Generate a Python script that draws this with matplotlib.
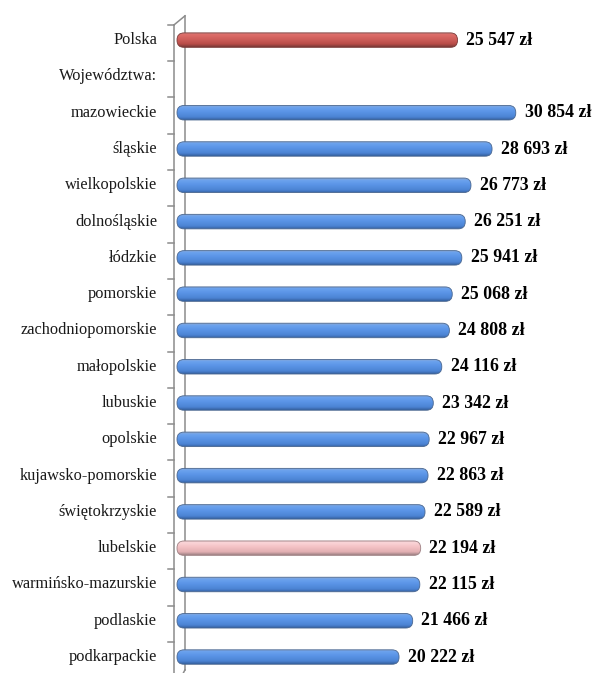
#!/usr/bin/env python3
"""Przeciętne wynagrodzenie wg województw — poziome słupki 'cylindryczne'."""

import matplotlib
matplotlib.use("Agg")
import matplotlib.pyplot as plt
import numpy as np
from matplotlib.colors import LinearSegmentedColormap
from matplotlib.patches import FancyBboxPatch

labels = ["Polska", "Województwa:", "mazowieckie", "śląskie", "wielkopolskie",
          "dolnośląskie", "łódzkie", "pomorskie", "zachodniopomorskie",
          "małopolskie", "lubuskie", "opolskie", "kujawsko-pomorskie",
          "świętokrzyskie", "lubelskie", "warmińsko-mazurskie", "podlaskie",
          "podkarpackie"]
values = [25547, None, 30854, 28693, 26773, 26251, 25941, 25068, 24808,
          24116, 23342, 22967, 22863, 22589, 22194, 22115, 21466, 20222]
kinds = ["red", None] + ["blue"] * 12 + ["pink"] + ["blue"] * 3

PALETTES = {
    "blue": ["#8FA9CF", "#6BA2EE", "#5A94E6", "#4C84D4", "#34609F"],
    "red": ["#C08A88", "#DE6E6A", "#D0605C", "#B84C48", "#7A3A38"],
    "pink": ["#D8B8BA", "#FBD6D9", "#F4C2C5", "#E2AFB2", "#9E8184"],
}
EDGES = {"blue": "#4A6790", "red": "#7A3A38", "pink": "#9E8184"}
STOPS = [0.0, 0.15, 0.45, 0.8, 1.0]

W, H = 593, 673
ZERO_PX = 177
PX_PER_UNIT = 0.01098
ROW_PX = 36.29
TOP_PX = 22

fig = plt.figure(figsize=(W / 100, H / 100), dpi=100)
ax = fig.add_axes([160 / W, 0, 1 - 160 / W, 1 - TOP_PX / H])
xmin = (160 - ZERO_PX) / PX_PER_UNIT
xmax = (W - ZERO_PX) / PX_PER_UNIT
ybot = -0.5 + (H - TOP_PX) / ROW_PX
ax.set_xlim(xmin, xmax)
ax.set_ylim(ybot, -0.5)
ax.axis("off")

font = ["Liberation Serif", "DejaVu Serif"]
bar_h = 0.4
r_px = 7.0
rx = r_px / PX_PER_UNIT
ry = r_px / ROW_PX
aspect = ry / rx

for i, (lab, val, kind) in enumerate(zip(labels, values, kinds)):
    ax.text((157 - ZERO_PX) / PX_PER_UNIT, i, lab, ha="right", va="center",
            fontsize=11.8, family=font, color="#1a1a1a", clip_on=False)
    if val is None:
        continue
    cmap = LinearSegmentedColormap.from_list(kind, list(zip(STOPS, PALETTES[kind])))
    grad = np.linspace(0, 1, 64).reshape(-1, 1)
    y0 = i - bar_h / 2
    im = ax.imshow(grad, cmap=cmap, aspect="auto", interpolation="bilinear",
                   extent=[0, val, i + bar_h / 2, y0], zorder=3)
    patch = FancyBboxPatch((0, y0), val, bar_h,
                           boxstyle=f"round,pad=0,rounding_size={rx}",
                           mutation_aspect=aspect, facecolor="none",
                           edgecolor=EDGES[kind], linewidth=0.6, zorder=4)
    ax.add_patch(patch)
    im.set_clip_path(patch)
    ax.text(val + 800, i, f"{val // 1000} {val % 1000:03d} zł", ha="left",
            va="center", fontsize=12.8, fontweight="bold", family=font,
            color="black", zorder=5)

# pseudo-3D vertical axis
axc = "#8C8C8C"
front = (174 - ZERO_PX) / PX_PER_UNIT
back = (185 - ZERO_PX) / PX_PER_UNIT
lw = 1.1
ax.plot([front, front], [-0.42, ybot], color=axc, lw=lw, clip_on=False, zorder=2)
ax.plot([back, back], [-0.67, 17.35], color=axc, lw=lw, clip_on=False, zorder=2)
ax.plot([front, back], [-0.42, -0.67], color=axc, lw=lw, clip_on=False, zorder=2)
ax.plot([back, front + 0.4 * (back - front)], [17.35, 17.7], color=axc, lw=lw,
        clip_on=False, zorder=2)
tick_l = (168 - ZERO_PX) / PX_PER_UNIT
for k in range(len(labels) + 1):
    ax.plot([tick_l, front], [k - 0.42, k - 0.42],
            color=axc, lw=lw, clip_on=False, zorder=2)

fig.savefig("out.png", dpi=100)
